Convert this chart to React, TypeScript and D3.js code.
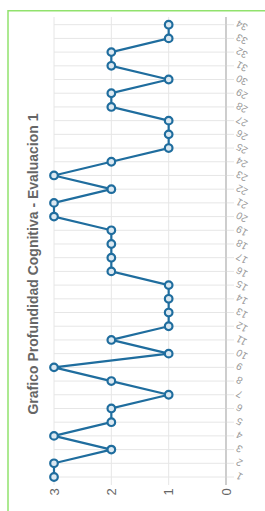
import React from "react";
import * as d3 from "d3";

const categories: string[] = Array.from({ length: 34 }, (_, i) => String(i + 1));
const values: number[] = [3, 3, 2, 3, 2, 2, 1, 2, 3, 1, 2, 1, 1, 1, 1, 2, 2, 2, 2, 3, 3, 2, 3, 2, 1, 1, 1, 2, 2, 1, 2, 2, 1, 1];
const valueTicks: number[] = [0, 1, 2, 3];
const title = "Grafico Profundidad Cognitiva - Evaluacion 1";

export default function App() {
  const W = 265, H = 511;
  const x = d3.scaleLinear().domain([0, 3]).range([226, 54]);
  const y = d3.scalePoint<string>().domain(categories).range([477, 24.7]);
  const blue = "#1f6d9e";
  const line = d3.line<number>()
    .x((d) => x(d))
    .y((_, i) => y(categories[i]) as number);
  const gridTop = 17;
  const gridBottom = 477;
  return (
    <svg width={W} height={H} style={{ position: "absolute", left: 0, top: 0 }}>
      <rect x={8} y={10.75} width={400} height={600} fill="white" stroke="#91e26d" strokeWidth={1.5} />
      {valueTicks.map((v) => (
        <line key={"v" + v} x1={x(v)} x2={x(v)} y1={gridTop} y2={gridBottom + 8}
          stroke={v === 0 ? "#bdbdbd" : "#e6e6e6"} strokeWidth={1} />
      ))}
      {categories.map((c) => (
        <line key={"h" + c} x1={x(3)} x2={x(0) + 8} y1={y(c)} y2={y(c)} stroke="#e6e6e6" strokeWidth={1} />
      ))}
      <line x1={x(0)} x2={x(0)} y1={gridTop} y2={gridBottom + 8} stroke="#bdbdbd" strokeWidth={1} />
      {valueTicks.map((v) => (
        <text key={"vt" + v} transform={`translate(${x(v)},${492}) rotate(-90)`} textAnchor="middle"
          dominantBaseline="central" fontFamily="Liberation Sans, Arial, sans-serif" fontSize={13} fill="#666">
          {v}
        </text>
      ))}
      {categories.map((c) => (
        <text key={"ct" + c} transform={`translate(${237},${(y(c) as number) - 2}) rotate(210)`} textAnchor="end"
          dominantBaseline="central" fontFamily="Liberation Sans, Arial, sans-serif" fontSize={10} fill="#999">
          {c}
        </text>
      ))}
      <text transform={`translate(33,264) rotate(-90)`} textAnchor="middle" dominantBaseline="central"
        fontFamily="Liberation Sans, Arial, sans-serif" fontSize={14} fontWeight="bold" fill="#666">
        {title}
      </text>
      <path d={line(values) || ""} fill="none" stroke={blue} strokeWidth={2.2} />
      {values.map((v, i) => (
        <circle key={"p" + i} cx={x(v)} cy={y(categories[i])} r={3.8} fill="#dbe8f1" stroke={blue} strokeWidth={2.2} />
      ))}
    </svg>
  );
}
